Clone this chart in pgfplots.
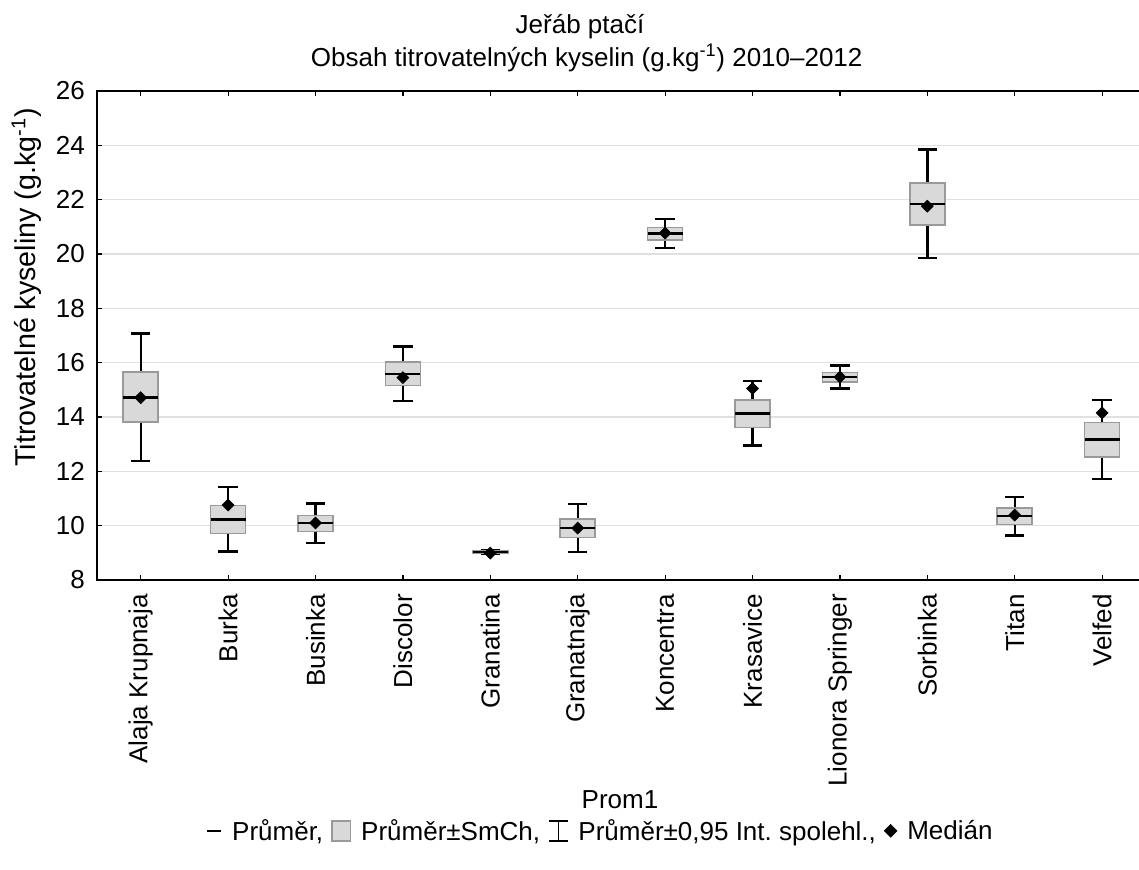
\documentclass[border=0pt]{standalone}
\usepackage{fontspec}
\setmainfont{Liberation Sans}
\usepackage{pgfplots}
\pgfplotsset{compat=1.18}
\usepackage{pgfplotstable}
\usepgfplotslibrary{statistics}

% medians
\pgfplotstableread{
pos med
0 14.71
1 10.76
2 10.10
3 15.45
4 8.99
5 9.91
6 20.77
7 15.05
8 15.47
9 21.76
10 10.39
11 14.15
}\meddata

\definecolor{boxfill}{HTML}{D9D9D9}
\definecolor{boxdraw}{HTML}{9A9A9A}
\definecolor{gridc}{HTML}{E0E0E0}

\pgfplotsset{
  mybox/.style={black,
    boxplot/draw direction=y,
    boxplot/box extend=0.4,
    boxplot/whisker extend=0.22,
    boxplot/every box/.style={draw=boxdraw, fill=boxfill, line width=1.1pt},
    boxplot/every whisker/.style={black, line width=1.8pt},
    boxplot/every median/.style={black, line width=2pt}},
}
% box(pos, lower CI, mean-SE, mean, mean+SE, upper CI)
\newcommand{\mybox}[6]{\addplot[mybox, boxplot prepared={draw position=#1,
  lower whisker=#2, lower quartile=#3, median=#4, upper quartile=#5, upper whisker=#6}] coordinates {};}

\begin{document}
\frenchspacing
\begin{tikzpicture}[font=\fontsize{19.5pt}{23pt}\selectfont]
\useasboundingbox (0,0) rectangle (854.25pt,652.5pt);
\begin{axis}[
  at={(72.75pt,217.5pt)}, anchor=south west,
  scale only axis, width=786.6pt, height=366.75pt,
  xmin=-0.5, xmax=11.5, ymin=8, ymax=26,
  xtick={0,...,11},
  xticklabels={Alaja Krupnaja,Burka,Businka,Discolor,Granatina,Granatnaja,Koncentra,Krasavice,Lionora Springer,Sorbinka,Titan,Velfed},
  ytick={8,10,...,26},
  ymajorgrids, grid style={gridc, line width=0.8pt},
  tick align=inside, major tick length=3.75pt,
  tick style={black, line width=0.9pt},
  axis line style={black, line width=1.1pt},
  ytick pos=left,
  xticklabel style={yshift=-10.5pt, rotate=90, anchor=east, inner sep=0pt},
  yticklabel style={inner sep=0pt, xshift=-9pt},
  /pgf/number format/assume math mode=true,
  legend columns=-1,
  legend style={draw=none, fill=none, at={(0.4787,-0.513)}, anchor=center,
    font=\fontsize{19.5pt}{23pt}\selectfont,
    /tikz/every odd column/.append style={column sep=7.5pt},
    /tikz/every even column/.append style={column sep=6pt},
    nodes={inner sep=0pt}},
]
\addlegendimage{legend image code/.code={\draw[black, line width=1.5pt] (0pt,0pt) -- (11pt,0pt);}}
\addlegendentry{Průměr,}
\addlegendimage{legend image code/.code={\draw[draw=boxdraw, fill=boxfill, line width=1pt] (0pt,-7.5pt) rectangle (14pt,7.5pt);}}
\addlegendentry{Průměr±SmCh,}
\addlegendimage{legend image code/.code={\draw[black, line width=1.2pt] (0pt,-7.5pt) -- (14pt,-7.5pt) (7pt,-7.5pt) -- (7pt,7.5pt) (0pt,7.5pt) -- (14pt,7.5pt);}}
\addlegendentry{Průměr±0,95 Int. spolehl.,}
\addlegendimage{legend image code/.code={\fill[black] (0pt,0pt) -- (4.8pt,4.8pt) -- (9.6pt,0pt) -- (4.8pt,-4.8pt) -- cycle;}}
\addlegendentry{Medián}

\mybox{0}{12.37}{13.82}{14.71}{15.66}{17.08}
\mybox{1}{9.05}{9.71}{10.22}{10.75}{11.43}
\mybox{2}{9.36}{9.79}{10.10}{10.37}{10.81}
\mybox{3}{14.58}{15.16}{15.58}{16.03}{16.59}
\mybox{4}{8.97}{9.00}{9.03}{9.06}{9.10}
\mybox{5}{9.03}{9.56}{9.92}{10.24}{10.79}
\mybox{6}{20.22}{20.52}{20.75}{20.98}{21.28}
\mybox{7}{12.95}{13.61}{14.13}{14.63}{15.32}
\mybox{8}{15.05}{15.29}{15.47}{15.64}{15.89}
\mybox{9}{19.85}{21.06}{21.84}{22.61}{23.84}
\mybox{10}{9.64}{10.04}{10.35}{10.65}{11.06}
\mybox{11}{11.71}{12.52}{13.17}{13.79}{14.62}

\addplot[only marks, mark=square*, mark size=3.2pt, mark options={rotate=45, fill=black, draw=black}] table[x=pos, y=med] {\meddata};
\end{axis}
\node[anchor=base] at (435pt,627pt) {Jeřáb ptačí};
\node[anchor=base] at (440pt,602.25pt) {Obsah titrovatelných kyselin (g.kg\textsuperscript{-1}) 2010–2012};
\node[anchor=base, rotate=90, font=\fontsize{21.5pt}{25pt}\selectfont] at (26.5pt,436.9pt) {Titrovatelné kyseliny (g.kg\textsuperscript{-1})};
\node[anchor=center] at (465pt,52.5pt) {Prom1};
\end{tikzpicture}
\end{document}
